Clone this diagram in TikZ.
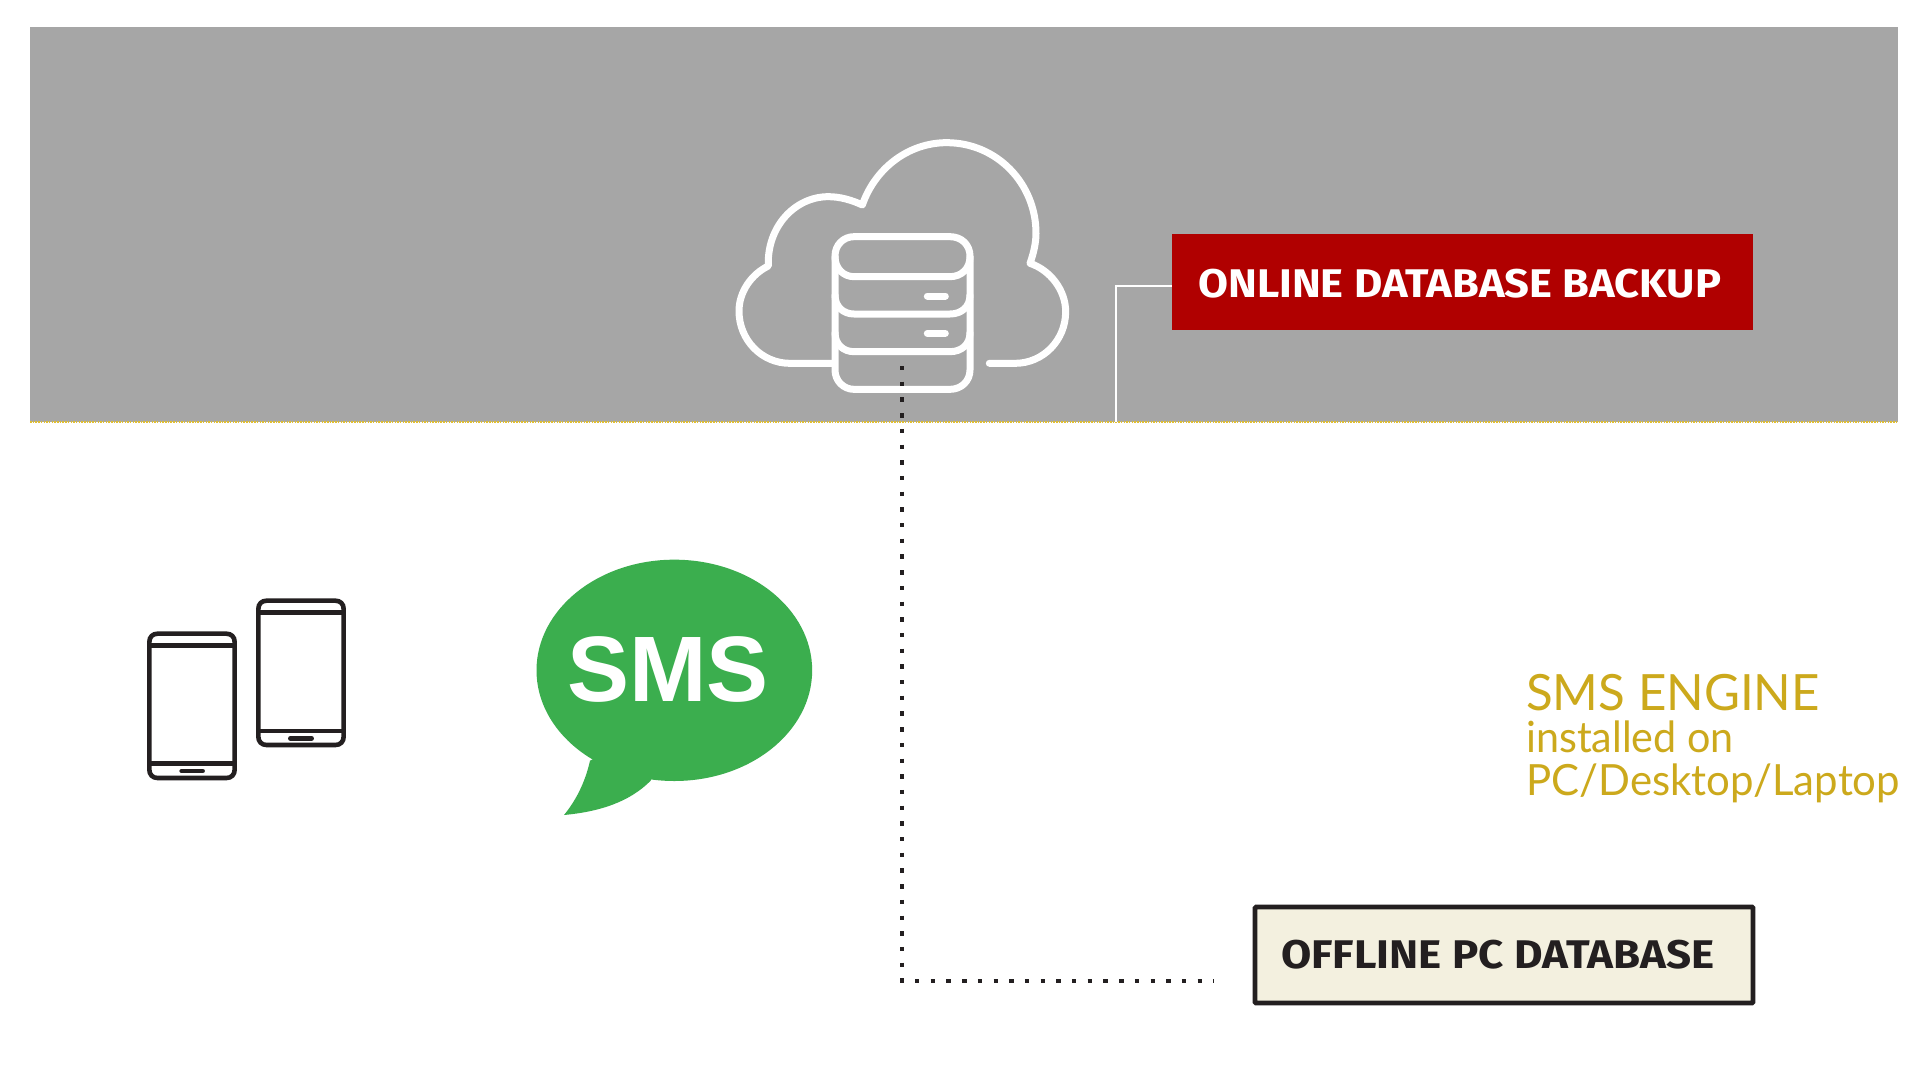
\documentclass[tikz,border=0pt]{standalone}
\usepackage{fontspec}
\setmainfont{Fira Sans}
\newfontfamily\labelfont{Fira Sans}
\newfontfamily\smsfont{Liberation Sans}
\newfontfamily\enginefont{Lato}
\definecolor{panelgray}{HTML}{A6A6A6}
\definecolor{boxred}{HTML}{B00000}
\definecolor{inkdark}{HTML}{231F20}
\definecolor{boxcream}{HTML}{F3F0DF}
\definecolor{smsgreen}{HTML}{3BAE4E}
\definecolor{gold}{HTML}{CCA91C}
\definecolor{seam}{HTML}{E0BE30}
\tikzset{
  iconline/.style={draw=white,line width=7pt,line cap=round,line join=round},
  phoneline/.style={draw=inkdark,line width=4.6pt,line cap=round},
  labelbox/.style={minimum height=0pt,inner sep=0pt,text centered},
  dotline/.style={draw=inkdark,line width=4.4pt,dash pattern=on 4.4pt off 11.3pt},
  enginetext/.style={anchor=base west,inner sep=0pt,text=gold},
}
\begin{document}
\begin{tikzpicture}[x=1pt,y=-1pt]
\useasboundingbox (0,0) rectangle (1920,1080);
\fill[white] (0,0) rectangle (1920,1080);
% panel
\fill[panelgray] (30,27) rectangle (1898,422);
\draw[seam,line width=1.6pt,dash pattern=on 1.5pt off 1.2pt] (30,422) -- (1898,422);
% cloud + database
\begin{scope}[shift={(700,110)},scale=1/3]
\draw[iconline] (395,760) -- (270,760)
  .. controls (185,760) and (117,690) .. (117,603)
  .. controls (117,545) and (155,492) .. (205,468)
  .. controls (200,350) and (285,260) .. (385,260)
  .. controls (420,260) and (455,270) .. (487,285)
  .. controls (525,175) and (625,98) .. (740,98)
  .. controls (890,98) and (1008,220) .. (1008,370)
  .. controls (1008,400) and (1000,432) .. (990,460)
  .. controls (1050,480) and (1097,540) .. (1097,605)
  .. controls (1097,690) and (1030,760) .. (945,760) -- (868,760);
\draw[iconline] (405,438) .. controls (405,405) and (430,380) .. (462,380) -- (750,380)
  .. controls (785,380) and (810,405) .. (810,438) -- (810,780)
  .. controls (810,812) and (785,838) .. (750,838) -- (462,838)
  .. controls (430,838) and (405,812) .. (405,780) -- cycle;
\draw[iconline] (405,440) .. controls (405,475) and (430,500) .. (462,500) -- (750,500) .. controls (785,500) and (810,475) .. (810,440);
\draw[iconline] (405,555) .. controls (405,590) and (430,612) .. (462,612) -- (750,612) .. controls (785,612) and (810,590) .. (810,555);
\draw[iconline] (405,668) .. controls (405,703) and (430,725) .. (462,725) -- (750,725) .. controls (785,725) and (810,703) .. (810,668);
\draw[iconline] (682,558) -- (736,558);
\draw[iconline] (682,670) -- (736,670);
\end{scope}
% boxes
\node[labelbox,fill=boxred,minimum width=581pt,minimum height=96pt] (online) at (1462.5,282) {};
\node[anchor=base west,inner sep=0pt,text=white,xscale=1.087] (onlinetext) at (1198,297) {\labelfont\bfseries\fontsize{40}{40}\selectfont ONLINE DATABASE BACKUP};
\node[labelbox,fill=boxcream,draw=inkdark,line width=4.6pt,minimum width=498pt,minimum height=96pt,rounded corners=1pt] (offline) at (1504,955) {};
\node[anchor=base west,inner sep=0pt,text=inkdark,xscale=1.097] (offlinetext) at (1281,968.5) {\labelfont\bfseries\fontsize{40}{40}\selectfont OFFLINE PC DATABASE};
% connectors
\coordinate (panelfoot) at (1116,422);
\draw[white,line width=1.8pt] (online.west |- 0,286) -| (panelfoot);
\coordinate (dbdot) at (902,366);
\coordinate (offdot) at (1214,981);
\draw[dotline] (dbdot) |- (offdot);
% phones
\begin{scope}[shift={(130,580)},scale=1/3]
\draw[phoneline] (58,186) .. controls (58,171) and (68,161) .. (83,161) -- (289,161) .. controls (304,161) and (314,171) .. (314,186) -- (314,569) .. controls (314,584) and (304,594) .. (289,594) -- (83,594) .. controls (68,594) and (58,584) .. (58,569) -- cycle;
\draw[phoneline] (58,197) -- (314,197);
\draw[phoneline] (58,551) -- (314,551);
\draw[phoneline] (155,573) -- (218,573);
\draw[phoneline] (385,87) .. controls (385,72) and (395,62) .. (410,62) -- (616,62) .. controls (631,62) and (641,72) .. (641,87) -- (641,470) .. controls (641,485) and (631,495) .. (616,495) -- (410,495) .. controls (395,495) and (385,485) .. (385,470) -- cycle;
\draw[phoneline] (385,98) -- (641,98);
\draw[phoneline] (385,453) -- (641,453);
\draw[phoneline] (481,475) -- (545,475);
\end{scope}
% bubble
\begin{scope}[shift={(520,550)},scale=1/3]
\fill[smsgreen] (463,361) ellipse [x radius=413.5,y radius=332];
\fill[smsgreen] (210,632) .. controls (195,700) and (165,755) .. (132,795) .. controls (240,785) and (330,755) .. (392,692) -- (463,500) -- cycle;
\end{scope}
\node[inner sep=0pt,text=white] (smstext) at (668,669) {\smsfont\bfseries\fontsize{93}{93}\selectfont SMS};
% engine text
\node[enginetext,xscale=0.985] (engine1) at (1526,710) {\enginefont\fontsize{50}{50}\selectfont SMS ENGINE};
\node[enginetext,xscale=0.96] (engine2) at (1526,752) {\enginefont\fontsize{43}{43}\selectfont installed on};
\node[enginetext,xscale=0.975] (engine3) at (1526,795) {\enginefont\fontsize{43}{43}\selectfont PC/Desktop/Laptop};
\end{tikzpicture}
\end{document}
